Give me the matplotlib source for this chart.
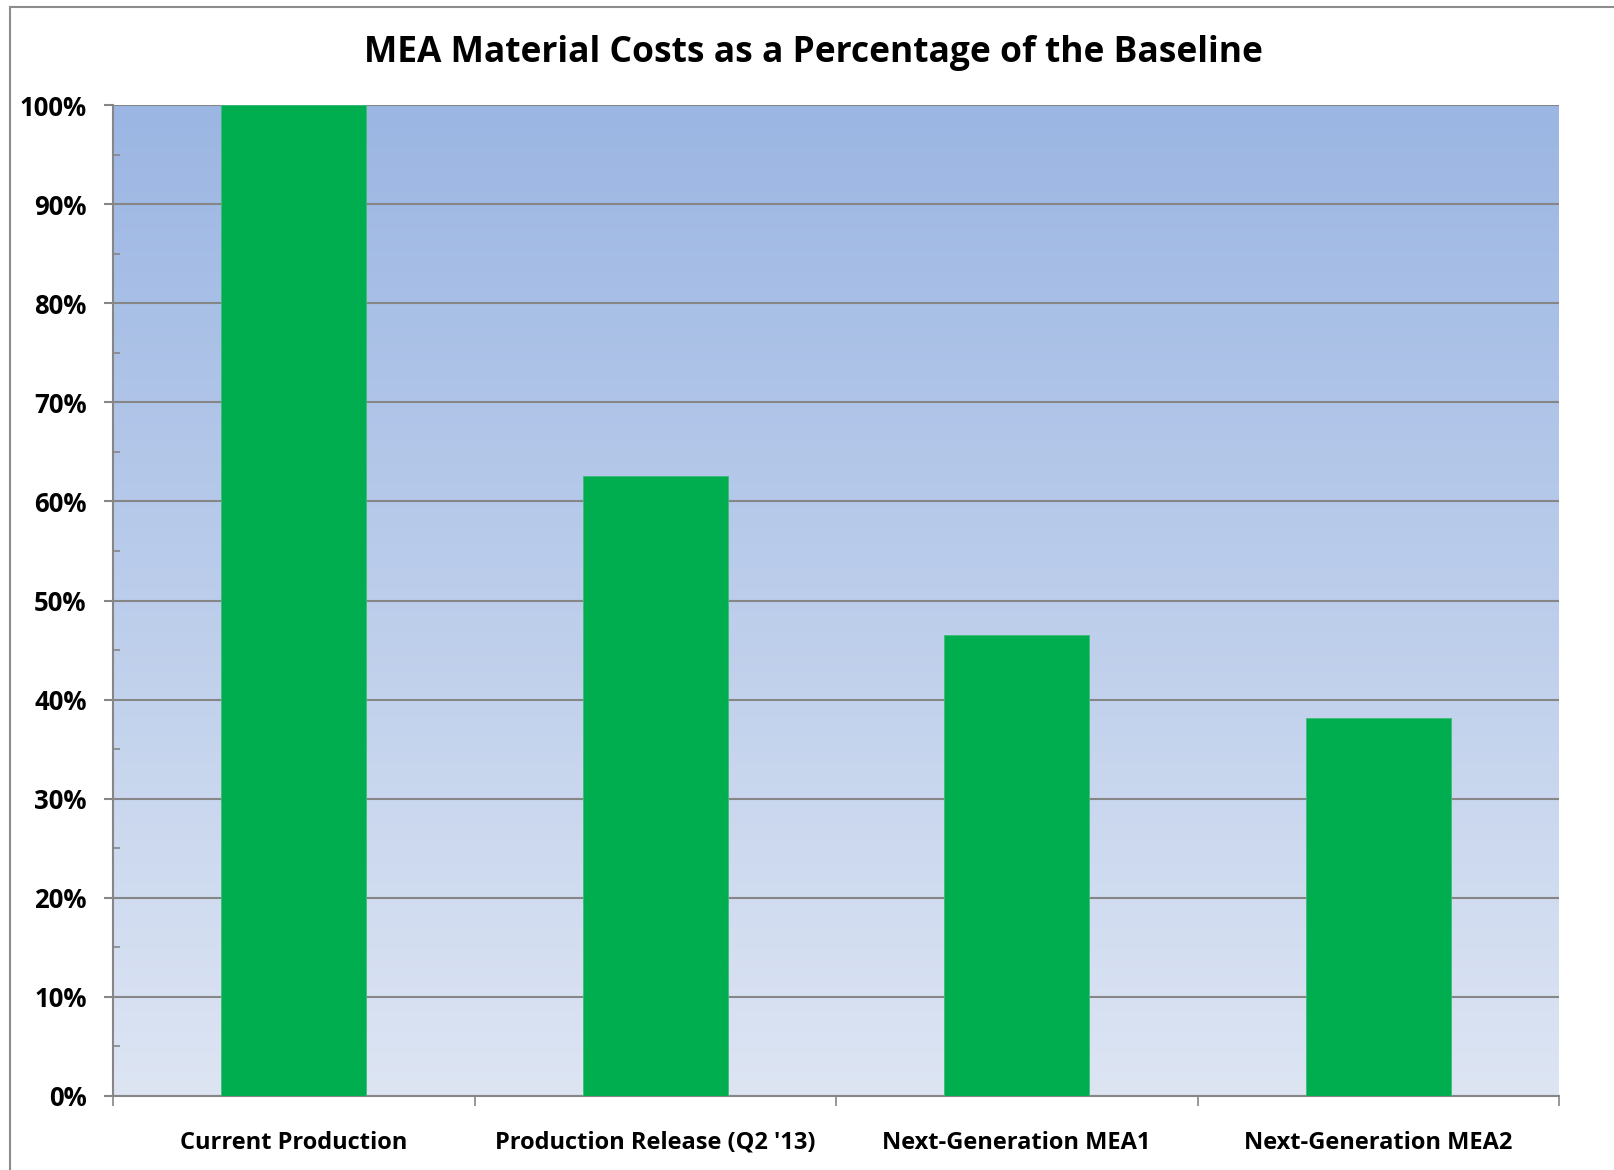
import matplotlib
matplotlib.use("Agg")
import matplotlib.pyplot as plt
import numpy as np
from matplotlib.patches import Rectangle
from matplotlib.colors import LinearSegmentedColormap
from matplotlib.ticker import MultipleLocator, PercentFormatter

categories = ["Current Production", "Production Release (Q2 '13)",
              "Next-Generation MEA1", "Next-Generation MEA2"]
values = [100.0, 62.6, 46.5, 38.1]
title = "MEA Material Costs as a Percentage of the Baseline"

W, H = 1614, 1170
fig = plt.figure(figsize=(W / 100, H / 100), dpi=100)
plt.rcParams['font.family'] = ['Open Sans', 'DejaVu Sans']

# outer chart frame (cropped at right and bottom)
fig.patches.append(Rectangle((10 / W, -0.05), 1.1, 1 - 7 / H + 0.05, transform=fig.transFigure,
                             fill=False, edgecolor='#8c8c8c', linewidth=1.5))

left, right, top, bottom = 113, 1559, 105, 1096
ax = fig.add_axes([left / W, 1 - bottom / H, (right - left) / W, (bottom - top) / H])

# gradient background
cmap = LinearSegmentedColormap.from_list('bg', ['#DDE5F3', '#9BB6E3'])
grad = np.linspace(0, 1, 256).reshape(-1, 1)
ax.imshow(grad, aspect='auto', cmap=cmap, origin='lower',
          extent=[-0.5, len(categories) - 0.5, 0, 100], zorder=0)

x = np.arange(len(categories))
ax.bar(x, values, width=0.40, color='#00AE50', edgecolor='#3dbb7a', linewidth=0.6, zorder=3)

ax.set_xlim(-0.5, len(categories) - 0.5)
ax.set_ylim(0, 100)
ax.yaxis.set_major_locator(MultipleLocator(10))
ax.yaxis.set_minor_locator(MultipleLocator(5))
ax.yaxis.set_major_formatter(PercentFormatter(decimals=0))
ax.grid(axis='y', which='major', color='#868686', linewidth=1.5, zorder=1)
ax.set_axisbelow(True)

ax.set_xticks(x)
ax.set_xticklabels(categories, fontsize=17, fontweight='bold')
ax.set_xticks(np.arange(len(categories) + 1) - 0.5, minor=True)
ax.tick_params(axis='x', which='major', length=0, pad=25)
ax.tick_params(axis='x', which='minor', length=7, width=1.2, color='#868686', direction='out')
ax.tick_params(axis='y', which='major', length=6.5, width=1.5, color='#868686',
               direction='out', labelsize=18.5, pad=12.5)
ax.tick_params(axis='y', which='minor', length=5, width=1.2, color='#868686', direction='in')
for lab in ax.get_yticklabels():
    lab.set_fontweight('bold')

for s in ['top', 'right']:
    ax.spines[s].set_visible(False)
for s in ['left', 'bottom']:
    ax.spines[s].set_color('#868686')
    ax.spines[s].set_linewidth(1.5)

fig.text((363 + 1263) / 2 / W, 1 - 53 / H, title, ha='center', va='center',
         fontsize=25.5, fontweight='bold')

fig.savefig("out.png", dpi=100)
